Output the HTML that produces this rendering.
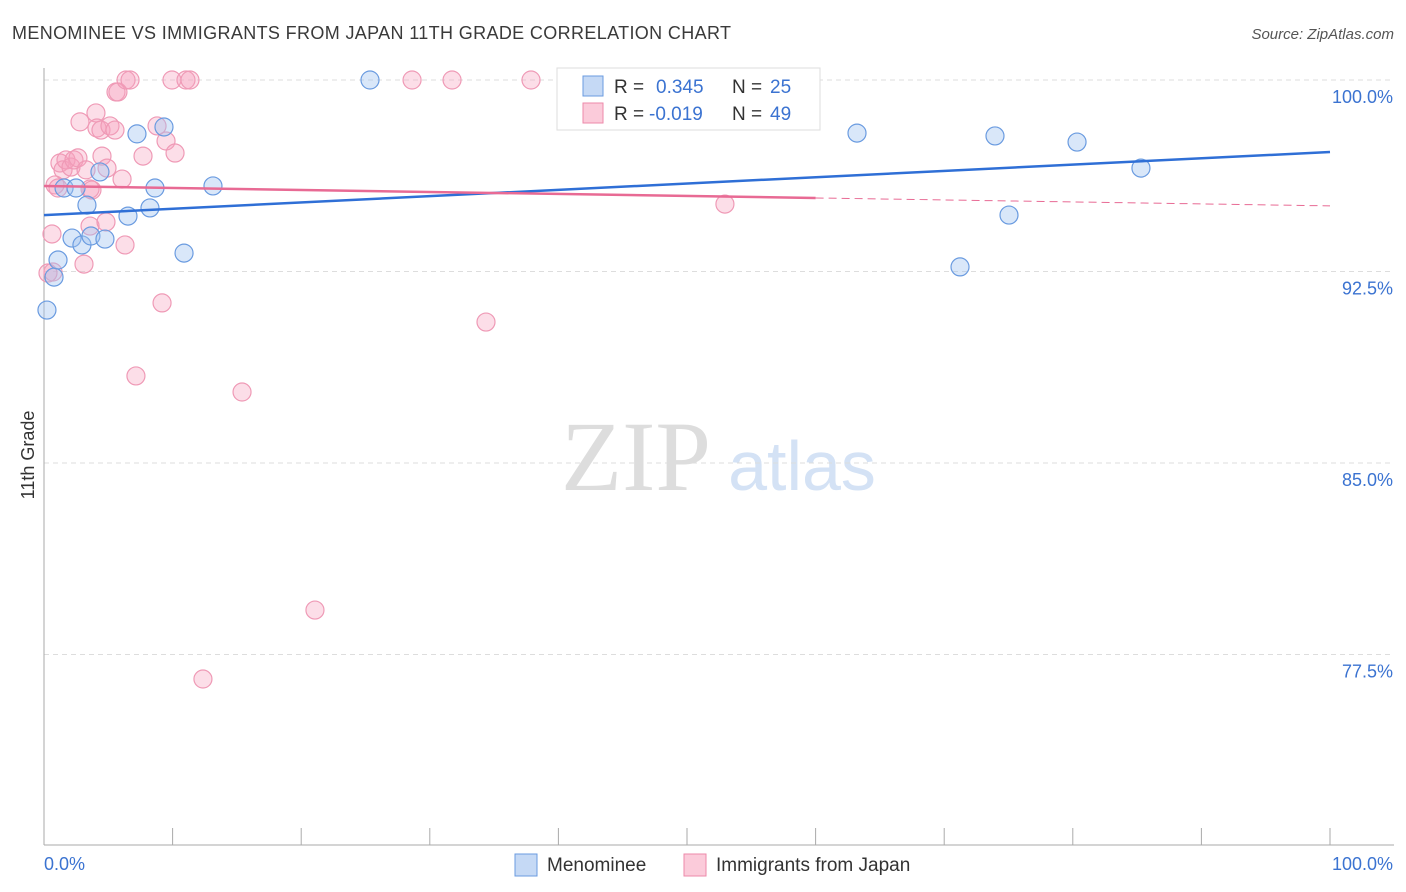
<!DOCTYPE html>
<html><head><meta charset="utf-8"><style>
body{margin:0;background:#fff;font-family:"Liberation Sans",sans-serif}
</style></head><body>
<svg width="1406" height="892" style="display:block">
<text x="12" y="39" font-size="18" fill="#3a3a3a" textLength="719">MENOMINEE VS IMMIGRANTS FROM JAPAN 11TH GRADE CORRELATION CHART</text>
<text x="1394" y="39" font-size="15" fill="#555" font-style="italic" text-anchor="end">Source: ZipAtlas.com</text>
<text x="636" y="490" font-size="100" fill="#ddd" font-family="Liberation Serif,serif" text-anchor="middle">ZIP</text>
<text x="802" y="490" font-size="70" fill="#d4e2f5" text-anchor="middle">atlas</text>
<g id="grid"></g><g id="axes"></g><g id="pts"></g><g id="lines"></g>
<text x="34" y="455" font-size="18" fill="#333" transform="rotate(-90 34 455)" text-anchor="middle">11th Grade</text>
<g>
<rect x="557" y="68" width="263" height="62" fill="#fff" stroke="#ddd"/>
<rect x="583" y="76" width="20" height="20" fill="#c5d9f5" stroke="#6a9be0"/>
<text x="614" y="93" font-size="19" fill="#333">R = </text><text x="656" y="93" font-size="19" fill="#3b73d1">0.345</text>
<text x="732" y="93" font-size="19" fill="#333">N = </text><text x="770" y="93" font-size="19" fill="#3b73d1">25</text>
<rect x="583" y="103" width="20" height="20" fill="#fbcbda" stroke="#ec8aaa"/>
<text x="614" y="120" font-size="19" fill="#333">R = </text><text x="649" y="120" font-size="19" fill="#3b73d1">-0.019</text>
<text x="732" y="120" font-size="19" fill="#333">N = </text><text x="770" y="120" font-size="19" fill="#3b73d1">49</text>
</g>
<g>
<rect x="515" y="854" width="22" height="22" fill="#c5d9f5" stroke="#6a9be0"/>
<text x="547" y="871" font-size="19" fill="#333">Menominee</text>
<rect x="684" y="854" width="22" height="22" fill="#fbcbda" stroke="#ec8aaa"/>
<text x="716" y="871" font-size="19" fill="#333">Immigrants from Japan</text>
</g>
</svg>
<script>
const yTicks=[100,92.5,85,77.5];
const yTickLabels=["100.0%","92.5%","85.0%","77.5%"];
const xTickLabels=["0.0%","100.0%"];
const blueX=[0.23,0.78,1.09,1.56,2.18,2.49,2.95,3.34,3.65,4.35,4.74,6.53,7.23,8.24,8.63,9.33,10.89,13.14,25.35,63.22,71.23,73.95,75.04,80.33,85.30];
const blueY=[90.99,92.28,92.95,95.77,93.81,95.77,93.54,95.10,93.89,96.40,93.77,94.67,97.89,94.99,95.77,98.16,93.22,95.85,100,97.92,92.68,97.81,94.71,97.57,96.55];
const pinkX=[0.62,0.70,0.86,1.09,1.24,1.48,1.71,2.10,2.33,2.64,2.80,3.11,3.27,3.58,3.58,4.04,4.12,4.43,4.51,4.82,4.90,5.13,5.52,5.60,5.75,6.07,6.30,6.38,6.69,7.15,7.70,8.79,9.18,9.49,9.95,10.19,11.04,11.35,12.36,15.40,21.07,28.62,31.73,34.37,37.87,42.92,52.95,0.31,3.73];
const pinkY=[93.97,92.48,95.89,95.77,96.75,96.48,96.87,96.59,96.87,96.95,98.36,92.79,96.48,94.28,95.73,98.71,98.12,98.04,97.02,94.44,96.55,98.20,98.04,99.53,99.53,96.12,93.54,100,100,88.41,97.02,98.20,91.27,97.61,100,97.14,100,100,76.54,87.78,79.24,100,100,90.52,100,100,95.14,92.44,95.69];
const blueTrend=[94.71,97.18];
const pinkTrend=[95.85,95.38,95.07];
const pinkSolidEnd=60;
const NS="http://www.w3.org/2000/svg";
const X=v=>44+v*12.86, Y=v=>80+(100-v)*25.533;
function mk(tag,parent,attrs){const e=document.createElementNS(NS,tag);for(const k in attrs)e.setAttribute(k,attrs[k]);document.getElementById(parent).appendChild(e);return e;}
yTicks.forEach((t,i)=>{
 const l=mk('line','grid',{x1:44,x2:1394,y1:Y(t),y2:Y(t),stroke:'#ddd','stroke-dasharray':'5,4'});
 
 
 const tx=mk('text','grid',{x:1393,y:Y(t)+23,'font-size':18,fill:'#3b73d1','text-anchor':'end'});
 tx.textContent=yTickLabels[i];
 
 
});
let a=mk('line','axes',{x1:44,x2:44,y1:68,y2:845,stroke:'#aaa'});


a=mk('line','axes',{x1:44,x2:1394,y1:845,y2:845,stroke:'#aaa'});


for(let i=0;i<=10;i++){const t=mk('line','axes',{x1:X(i*10),x2:X(i*10),y1:828,y2:845,stroke:'#aaa'});
 
 }
let xl=mk('text','axes',{x:44,y:870,'font-size':18,fill:'#3b73d1'});xl.textContent=xTickLabels[0];


xl=mk('text','axes',{x:1393,y:870,'font-size':18,fill:'#3b73d1','text-anchor':'end'});xl.textContent=xTickLabels[1];


pinkX.forEach((x,i)=>{const c=mk('circle','pts',{cx:X(x),cy:Y(pinkY[i]),r:9,fill:'rgba(246,160,190,0.35)',stroke:'#ef9ab6','stroke-width':1.2});
 
 });
blueX.forEach((x,i)=>{const c=mk('circle','pts',{cx:X(x),cy:Y(blueY[i]),r:9,fill:'rgba(160,195,240,0.4)',stroke:'#6a9be0','stroke-width':1.2});
 
 });
let ln=mk('line','lines',{x1:X(0),x2:X(100),y1:Y(blueTrend[0]),y2:Y(blueTrend[1]),stroke:'#2f6fd6','stroke-width':2.5});


ln=mk('line','lines',{x1:X(0),x2:X(pinkSolidEnd),y1:Y(pinkTrend[0]),y2:Y(pinkTrend[1]),stroke:'#e86a94','stroke-width':2.5});


ln=mk('line','lines',{x1:X(pinkSolidEnd),x2:X(100),y1:Y(pinkTrend[1]),y2:Y(pinkTrend[2]),stroke:'#e86a94','stroke-width':1,'stroke-dasharray':'8,5'});


</script>
</body></html>
